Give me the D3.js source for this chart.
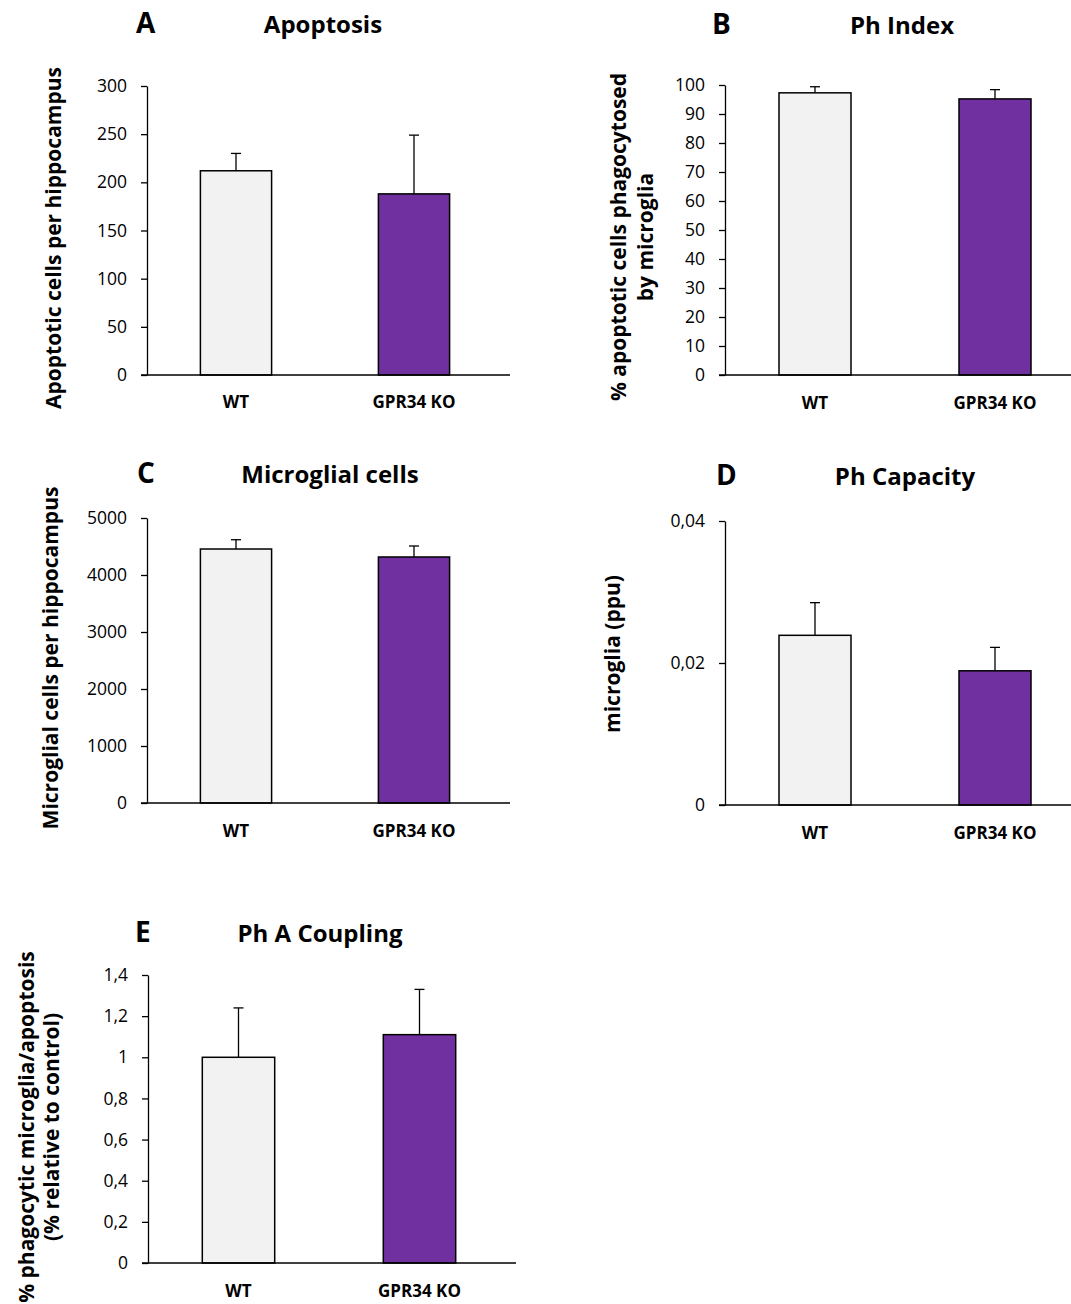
<!DOCTYPE html>
<html>
<head>
<meta charset="utf-8">
<script src="https://cdn.jsdelivr.net/npm/d3@7"></script>
<style>
  body { margin: 0; background: #fff; }
  text { font-family: "Open Sans", Lato, sans-serif; fill: #000; }
</style>
</head>
<body>
<div id="chart"></div>
<script>
// Data
const categories = ["WT", "GPR34 KO"]

const apoptosisMean = [212, 188]
const apoptosisErr  = [18, 61]
const apoptosisTicks = [0, 50, 100, 150, 200, 250, 300]

const phIndexMean = [97.3, 95.2]
const phIndexErr  = [2.1, 3.2]
const phIndexTicks = [0, 10, 20, 30, 40, 50, 60, 70, 80, 90, 100]

const microgliaMean = [4456, 4316]
const microgliaErr  = [163, 193]
const microgliaTicks = [0, 1000, 2000, 3000, 4000, 5000]

const phCapacityMean = [0.0239, 0.0189]
const phCapacityErr  = [0.0046, 0.0033]
const phCapacityTicks = [0, 0.02, 0.04]

const couplingMean = [1.0, 1.11]
const couplingErr  = [0.24, 0.22]
const couplingTicks = [0, 0.2, 0.4, 0.6, 0.8, 1.0, 1.2, 1.4]

const barColors = ["#f2f2f2", "#7030a0"]

// comma decimal separator, no thousands grouping
const locale = d3.formatLocale({ decimal: ",", thousands: "", grouping: [3], currency: ["", ""] })

const WIDTH = 1071
const HEIGHT = 1304

const svg = d3.select("#chart").append("svg")
    .attr("width", WIDTH)
    .attr("height", HEIGHT)

// panel layout (pixel placement only)
const panels = [
  { letter: "A", title: "Apoptosis", mean: apoptosisMean, err: apoptosisErr, ticks: apoptosisTicks, fmt: "d",
    x0: 147, x1: 503, axisEnd: 510, yTop: 86, yBot: 375, letterX: 136, titleX: 323, titleY: 33,
    ylabel: ["Apoptotic cells per hippocampus"], ylabelX: [61], ylabelY: 238, xlabY: 408 },
  { letter: "B", title: "Ph Index", mean: phIndexMean, err: phIndexErr, ticks: phIndexTicks, fmt: "d",
    x0: 725, x1: 1085, axisEnd: 1071, yTop: 85, yBot: 375, letterX: 712, titleX: 902, titleY: 34,
    ylabel: ["% apoptotic cells phagocytosed", "by microglia"], ylabelX: [626, 653], ylabelY: 237, xlabY: 409 },
  { letter: "C", title: "Microglial cells", mean: microgliaMean, err: microgliaErr, ticks: microgliaTicks, fmt: "d",
    x0: 147, x1: 503, axisEnd: 510, yTop: 518, yBot: 803, letterX: 137, titleX: 330, titleY: 483,
    ylabel: ["Microglial cells per hippocampus"], ylabelX: [58], ylabelY: 658, xlabY: 837 },
  { letter: "D", title: "Ph Capacity", mean: phCapacityMean, err: phCapacityErr, ticks: phCapacityTicks, fmt: ".2~f",
    x0: 725, x1: 1085, axisEnd: 1071, yTop: 521, yBot: 805, letterX: 716, titleX: 905, titleY: 485,
    ylabel: ["microglia (ppu)"], ylabelX: [620], ylabelY: 654, xlabY: 839 },
  { letter: "E", title: "Ph A Coupling", mean: couplingMean, err: couplingErr, ticks: couplingTicks, fmt: ".1~f",
    x0: 148, x1: 510, axisEnd: 516, yTop: 975, yBot: 1263, letterX: 135, titleX: 320, titleY: 942,
    ylabel: ["% phagocytic microglia/apoptosis", "(% relative to control)"], ylabelX: [34, 59], ylabelY: 1127, xlabY: 1297 }
]

panels.forEach(p => drawPanel(p))

function drawPanel(p) {
  const g = svg.append("g")

  const x = d3.scaleBand()
      .domain(categories)
      .range([p.x0, p.x1])
      .paddingInner(0.6)
      .paddingOuter(0.3)

  const yMax = d3.max(p.ticks)
  const y = d3.scaleLinear()
      .domain([0, yMax])
      .range([p.yBot, p.yTop])

  // y axis
  const yAxis = d3.axisLeft(y)
      .tickValues(p.ticks)
      .tickSize(6)
      .tickSizeOuter(0)
      .tickPadding(14)
      .tickFormat(locale.format(p.fmt))

  const ya = g.append("g")
      .attr("transform", `translate(${p.x0},0)`)
      .call(yAxis)
  ya.selectAll("path, line").attr("stroke", "#000").attr("stroke-width", 1.3)
  ya.selectAll("text")
      .style("font-family", "'Open Sans', sans-serif")
      .style("font-size", "17.5px")
      .attr("fill", "#111")

  // bars
  const rows = categories.map((c, i) => ({ cat: c, mean: p.mean[i], err: p.err[i], color: barColors[i] }))

  g.selectAll("rect.bar")
    .data(rows)
    .enter()
    .append("rect")
      .attr("class", "bar")
      .attr("x", d => x(d.cat))
      .attr("y", d => y(d.mean))
      .attr("width", x.bandwidth())
      .attr("height", d => y(0) - y(d.mean))
      .attr("fill", d => d.color)
      .attr("stroke", "#000")
      .attr("stroke-width", 1.5)

  // upward error bars
  const cx = d => x(d.cat) + x.bandwidth() / 2
  g.selectAll("line.err")
    .data(rows)
    .enter()
    .append("line")
      .attr("x1", cx).attr("x2", cx)
      .attr("y1", d => y(d.mean))
      .attr("y2", d => y(d.mean + d.err))
      .attr("stroke", "#000")
      .attr("stroke-width", 1.3)
  g.selectAll("line.cap")
    .data(rows)
    .enter()
    .append("line")
      .attr("x1", d => cx(d) - 5).attr("x2", d => cx(d) + 5)
      .attr("y1", d => y(d.mean + d.err))
      .attr("y2", d => y(d.mean + d.err))
      .attr("stroke", "#000")
      .attr("stroke-width", 1.3)

  // x axis line
  g.append("line")
      .attr("x1", p.x0 - 6).attr("x2", p.axisEnd)
      .attr("y1", y(0)).attr("y2", y(0))
      .attr("stroke", "#000")
      .attr("stroke-width", 1.3)

  // category labels
  g.selectAll("text.cat")
    .data(rows)
    .enter()
    .append("text")
      .attr("x", cx)
      .attr("y", p.xlabY)
      .attr("text-anchor", "middle")
      .style("font-size", "17px")
      .style("font-weight", "bold")
      .text(d => d.cat)

  // panel letter and title
  g.append("text")
      .attr("x", p.letterX)
      .attr("y", p.titleY)
      .style("font-size", "28px")
      .style("font-weight", "bold")
      .text(p.letter)
  g.append("text")
      .attr("x", p.titleX)
      .attr("y", p.titleY)
      .attr("text-anchor", "middle")
      .style("font-size", "24px")
      .style("font-weight", "bold")
      .text(p.title)

  // y axis label (one or two lines)
  p.ylabel.forEach((t, i) => {
    g.append("text")
        .attr("transform", `translate(${p.ylabelX[i]},${p.ylabelY}) rotate(-90)`)
        .attr("text-anchor", "middle")
        .style("font-size", "21px")
        .style("font-weight", "bold")
        .text(t)
  })
}
</script>
</body>
</html>
